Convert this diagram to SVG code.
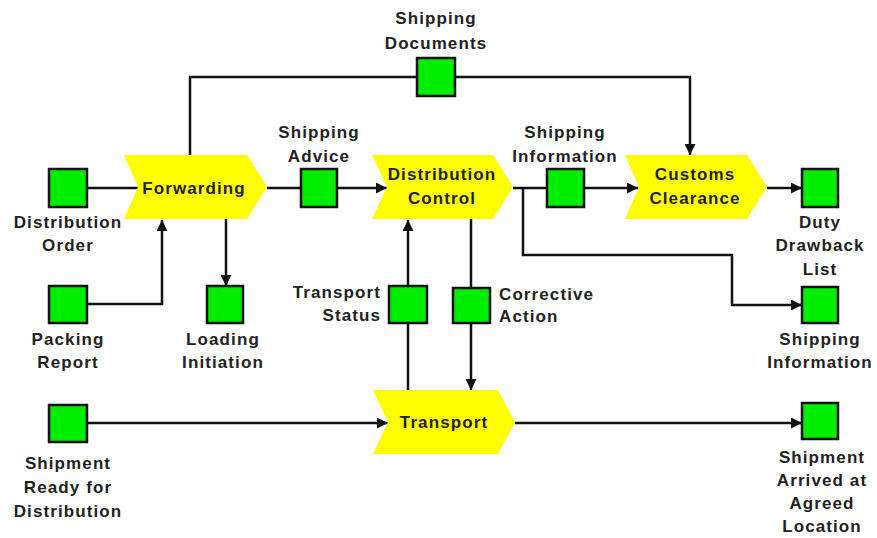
<svg xmlns="http://www.w3.org/2000/svg" width="877" height="538" viewBox="0 0 877 538">
  <style>
    .fn { fill: #ffff00; }
    .ev { fill: #00ee00; stroke: #111; stroke-width: 2.5; }
    .ln { fill: none; stroke: #111; stroke-width: 2.5; }
    .arr { marker-end: url(#ah); }
    text { font-family: "Liberation Sans", Arial, sans-serif; font-weight: bold; font-size: 17px; letter-spacing: 1.1px; fill: #222; }
    .c { text-anchor: middle; }
    .r { text-anchor: end; }
  </style>
  <defs>
    <marker id="ah" viewBox="0 0 10 10" refX="10" refY="5" markerWidth="11" markerHeight="11" markerUnits="userSpaceOnUse" orient="auto">
      <path d="M0,0 L10,5 L0,10 Z" fill="#111"/>
    </marker>
  </defs>
  <rect width="877" height="538" fill="#fff"/>

  <!-- connectors -->
  <g id="connectors">
    <path class="ln" d="M87,188 H138"/>
    <path class="ln" d="M267,188 H301"/>
    <path class="ln arr" d="M337,188 H387"/>
    <path class="ln" d="M513,188 H547"/>
    <path class="ln arr" d="M584,188 H638"/>
    <path class="ln arr" d="M767,188 H802"/>
    <path class="ln arr" d="M523,188 V255 H732 V305 H802"/>
    <path class="ln" d="M190,155 V77 H417"/>
    <path class="ln arr" d="M455,77 H690 V155"/>
    <path class="ln arr" d="M87,304 H162 V220"/>
    <path class="ln arr" d="M226,219 V286"/>
    <path class="ln" d="M408,390 V323"/>
    <path class="ln arr" d="M408,286 V220"/>
    <path class="ln" d="M471,219 V287"/>
    <path class="ln arr" d="M471,323 V390"/>
    <path class="ln arr" d="M87,423 H388"/>
    <path class="ln arr" d="M515,423 H802"/>
  </g>

  <!-- functions -->
  <g id="forwarding">
    <polygon class="fn" points="124,155 247,155 267,187 247,219 124,219 138,187"/>
    <text class="c" x="194" y="194">Forwarding</text>
  </g>
  <g id="distribution-control">
    <polygon class="fn" points="372,155 493,155 513,187 493,219 372,219 387,187"/>
    <text class="c" x="442" y="180">Distribution</text>
    <text class="c" x="442" y="204">Control</text>
  </g>
  <g id="customs-clearance">
    <polygon class="fn" points="625,155 747,155 767,187 747,219 625,219 639,187"/>
    <text class="c" x="695" y="180">Customs</text>
    <text class="c" x="695" y="204">Clearance</text>
  </g>
  <g id="transport">
    <polygon class="fn" points="373,390 498,390 515,422 498,454 373,454 388,422"/>
    <text class="c" x="444" y="428">Transport</text>
  </g>

  <!-- events -->
  <g id="distribution-order">
    <rect class="ev" x="49" y="169" width="38" height="38"/>
    <text class="c" x="68" y="228">Distribution</text>
    <text class="c" x="68" y="251">Order</text>
  </g>
  <g id="shipping-documents">
    <rect class="ev" x="417" y="58" width="38" height="38"/>
    <text class="c" x="436" y="24">Shipping</text>
    <text class="c" x="436" y="49">Documents</text>
  </g>
  <g id="shipping-advice">
    <rect class="ev" x="301" y="169" width="36" height="38"/>
    <text class="c" x="319" y="138">Shipping</text>
    <text class="c" x="319" y="162">Advice</text>
  </g>
  <g id="shipping-information-1">
    <rect class="ev" x="547" y="169" width="37" height="38"/>
    <text class="c" x="565" y="138">Shipping</text>
    <text class="c" x="565" y="162">Information</text>
  </g>
  <g id="duty-drawback-list">
    <rect class="ev" x="802" y="169" width="36" height="38"/>
    <text class="c" x="820" y="228">Duty</text>
    <text class="c" x="820" y="251">Drawback</text>
    <text class="c" x="820" y="275">List</text>
  </g>
  <g id="shipping-information-2">
    <rect class="ev" x="802" y="287" width="36" height="36"/>
    <text class="c" x="820" y="345">Shipping</text>
    <text class="c" x="820" y="368">Information</text>
  </g>
  <g id="packing-report">
    <rect class="ev" x="49" y="286" width="38" height="37"/>
    <text class="c" x="68" y="345">Packing</text>
    <text class="c" x="68" y="368">Report</text>
  </g>
  <g id="loading-initiation">
    <rect class="ev" x="207" y="286" width="36" height="37"/>
    <text class="c" x="223" y="345">Loading</text>
    <text class="c" x="223" y="368">Initiation</text>
  </g>
  <g id="transport-status">
    <rect class="ev" x="389" y="286" width="38" height="37"/>
    <text class="r" x="381" y="298">Transport</text>
    <text class="r" x="381" y="321">Status</text>
  </g>
  <g id="corrective-action">
    <rect class="ev" x="453" y="288" width="37" height="35"/>
    <text x="499" y="300">Corrective</text>
    <text x="499" y="322">Action</text>
  </g>
  <g id="shipment-ready">
    <rect class="ev" x="49" y="405" width="38" height="37"/>
    <text class="c" x="68" y="469">Shipment</text>
    <text class="c" x="68" y="493">Ready for</text>
    <text class="c" x="68" y="517">Distribution</text>
  </g>
  <g id="shipment-arrived">
    <rect class="ev" x="802" y="403" width="36" height="36"/>
    <text class="c" x="822" y="463">Shipment</text>
    <text class="c" x="822" y="486">Arrived at</text>
    <text class="c" x="822" y="509">Agreed</text>
    <text class="c" x="822" y="532">Location</text>
  </g>
</svg>
